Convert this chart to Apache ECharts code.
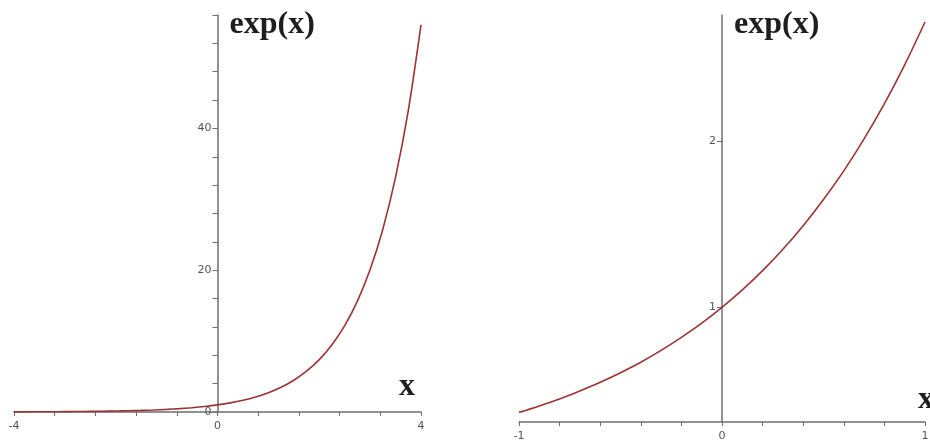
<!DOCTYPE html>
<html>
<head>
<meta charset="utf-8">
<script src="https://cdn.jsdelivr.net/npm/echarts@6/dist/echarts.min.js"></script>
<style>
  html, body { margin: 0; padding: 0; background: #fff; }
  #chart { width: 930px; height: 445px; }
</style>
</head>
<body>
<div id="chart"></div>
<script>
// Wide view: x from -4 to 4
const wideX = [-4, -3.75, -3.5, -3.25, -3, -2.75, -2.5, -2.25, -2, -1.75, -1.5, -1.25, -1, -0.75, -0.5, -0.25,
  0, 0.25, 0.5, 0.75, 1, 1.25, 1.5, 1.75, 2, 2.25, 2.5, 2.75, 3, 3.25, 3.5, 3.75, 4];
const wideY = [0.018, 0.024, 0.030, 0.039, 0.050, 0.064, 0.082, 0.105, 0.135, 0.174, 0.223, 0.287, 0.368, 0.472, 0.607, 0.779,
  1, 1.284, 1.649, 2.117, 2.718, 3.490, 4.482, 5.755, 7.389, 9.488, 12.18, 15.64, 20.09, 25.79, 33.12, 42.52, 54.60];

// Close-up view: x from -1 to 1
const closeX = [-1, -0.9, -0.8, -0.7, -0.6, -0.5, -0.4, -0.3, -0.2, -0.1, 0, 0.1, 0.2, 0.3, 0.4, 0.5, 0.6, 0.7, 0.8, 0.9, 1];
const closeY = [0.368, 0.407, 0.449, 0.497, 0.549, 0.607, 0.670, 0.741, 0.819, 0.905, 1, 1.105, 1.221, 1.350, 1.492, 1.649,
  1.822, 2.014, 2.226, 2.460, 2.718];

// Tick positions and labelled values
const wideXTicks = [-4, -3.2, -2.4, -1.6, -0.8, 0, 0.8, 1.6, 2.4, 3.2, 4];
const wideXLabels = [-4, 0, 4];
const wideYTicks = [0, 4, 8, 12, 16, 20, 24, 28, 32, 36, 40, 44, 48, 52, 56];
const wideYLabels = [0, 20, 40];
const closeXTicks = [-1, -0.8, -0.6, -0.4, -0.2, 0, 0.2, 0.4, 0.6, 0.8, 1];
const closeXLabels = [-1, 0, 1];
const closeYTicks = [1, 2];
const closeYLabels = [1, 2];

const yName = 'exp(x)';
const xName = 'x';

const axisColor = '#6e6e6e';
const labelColor = '#555';
const curveColor = '#9a3434';
const nameStyle = { fontFamily: 'Liberation Serif', fontWeight: 'bold', fontSize: 32, color: '#1e1e1e' };

// Grid boxes in pixels; the vertical axis is shifted into the box to sit at x = 0
const wideBox = { left: 14, right: 509, top: 15, bottom: 33, outerBoundsMode: 'none' };
const closeBox = { left: 519, right: 5, top: 15, bottom: 23, outerBoundsMode: 'none' };
const W = 930;

function fmt(v) { return Math.abs(v) < 1e-9 ? '0' : String(Math.round(v * 100) / 100); }

function zeroOffset(box, min, max) {
  const width = W - box.left - box.right;
  return -((0 - min) / (max - min)) * width;
}

function xAxisDef(gridIndex, min, max, ticks, labels, nameOpts) {
  return {
    type: 'value', gridIndex, min, max,
    name: xName, nameLocation: 'end', nameGap: nameOpts.gap,
    nameTextStyle: Object.assign({}, nameStyle, { align: nameOpts.align, verticalAlign: 'bottom', padding: nameOpts.padding }),
    axisLine: { onZero: true, lineStyle: { color: axisColor, width: 1.5 } },
    axisTick: { show: true, customValues: ticks, length: 4, lineStyle: { color: axisColor, width: 1 } },
    axisLabel: { customValues: labels, formatter: fmt, color: labelColor, fontSize: 11, fontFamily: 'DejaVu Sans', margin: 9 },
    splitLine: { show: false }
  };
}

function yAxisDef(gridIndex, min, max, ticks, labels, offset) {
  return {
    type: 'value', gridIndex, min, max, position: 'left', offset,
    name: yName, nameLocation: 'end', nameGap: -10,
    nameTextStyle: Object.assign({}, nameStyle, { align: 'left', verticalAlign: 'middle', padding: [0, 0, 0, 12] }),
    axisLine: { onZero: false, lineStyle: { color: axisColor, width: 1.5 } },
    axisTick: { show: true, customValues: ticks, length: 5, lineStyle: { color: axisColor, width: 1 } },
    axisLabel: { customValues: labels, formatter: fmt, color: labelColor, fontSize: 11, fontFamily: 'DejaVu Sans', margin: 6 },
    splitLine: { show: false }
  };
}

const chart = echarts.init(document.getElementById('chart'), null, { renderer: 'canvas' });
chart.setOption({
  animation: false,
  backgroundColor: '#fff',
  grid: [wideBox, closeBox],
  xAxis: [
    xAxisDef(0, -4, 4, wideXTicks, wideXLabels, { gap: -6, align: 'right', padding: [0, 0, 9, 0] }),
    xAxisDef(1, -1, 1, closeXTicks, closeXLabels, { gap: -7, align: 'left', padding: [0, 0, 6, 0] })
  ],
  yAxis: [
    yAxisDef(0, 0, 56, wideYTicks, wideYLabels, zeroOffset(wideBox, -4, 4)),
    yAxisDef(1, 0.31, 2.76, closeYTicks, closeYLabels, zeroOffset(closeBox, -1, 1))
  ],
  series: [
    {
      type: 'line', xAxisIndex: 0, yAxisIndex: 0, smooth: 0.3, showSymbol: false,
      lineStyle: { color: curveColor, width: 1.6 },
      data: wideX.map((x, i) => [x, wideY[i]])
    },
    {
      type: 'line', xAxisIndex: 1, yAxisIndex: 1, smooth: 0.3, showSymbol: false,
      lineStyle: { color: curveColor, width: 1.6 },
      data: closeX.map((x, i) => [x, closeY[i]])
    }
  ]
});
</script>
</body>
</html>
